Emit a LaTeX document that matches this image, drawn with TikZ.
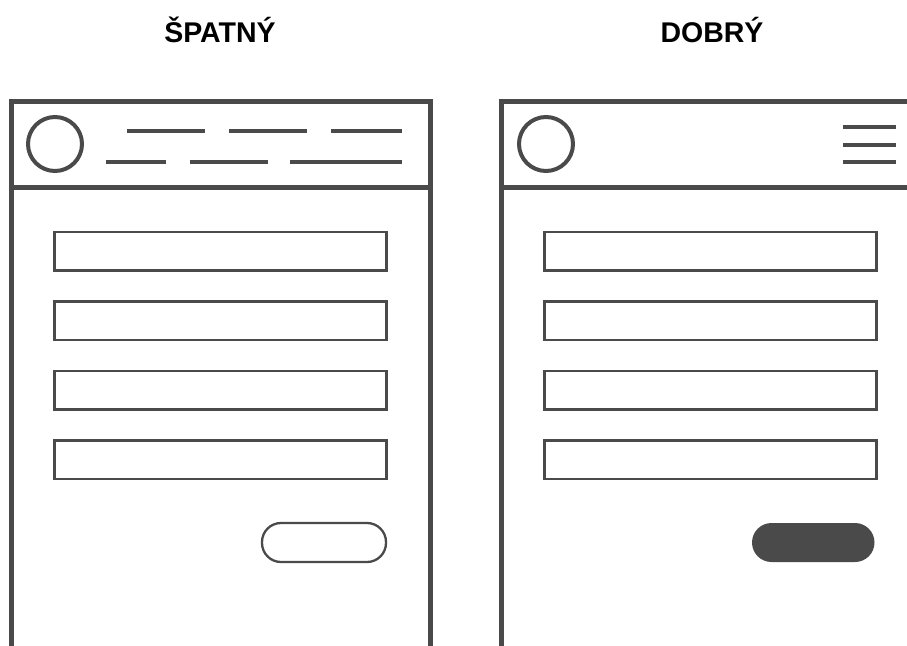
\documentclass[tikz,border=0pt]{standalone}
\usepackage{fontspec}
\setmainfont{Liberation Sans}
\definecolor{ink}{HTML}{4A4A4A}
\begin{document}
\begin{tikzpicture}[x=1pt,y=-1pt,
  frame/.style={draw=ink,line width=5pt},
  navline/.style={draw=ink,line width=4pt},
  logo/.style={draw=ink,line width=4pt},
  field/.style={draw=ink,line width=2.3pt},
  btnout/.style={draw=ink,line width=2.3pt,rounded corners=19pt},
  btnfill/.style={fill=ink,rounded corners=19.5pt},
  title/.style={font=\bfseries\fontsize{28.5}{30}\selectfont,anchor=base,inner sep=0pt}]
\useasboundingbox (0,0) rectangle (907,645);
\clip (0,0) rectangle (907,645);
% titles
\node[title] (tbad) at (220,42) {ŠPATNÝ};
\node[title] (tgood) at (712,42) {DOBRÝ};
% left phone
\draw[frame] (11.5,660) -- (11.5,101) -- (430,101) -- (430,660);
\draw[frame] (11.5,187.5) -- (430,187.5);
\draw[logo] (55,144) circle (27);
\draw[navline] (127,131) -- (205,131);
\draw[navline] (229,131) -- (307,131);
\draw[navline] (331,131) -- (402,131);
\draw[navline] (106,162) -- (166,162);
\draw[navline] (190,162) -- (268,162);
\draw[navline] (290,162) -- (402,162);
\foreach \y in {232,301.5,371,440.5}{
  \draw[field] (54.5,\y) rectangle (386.5,\y+38.5);
}
\draw[btnout] (262,523) rectangle (386,562);
% right phone
\draw[frame] (501.5,660) -- (501.5,101) -- (920,101);
\draw[frame] (501.5,187.5) -- (920,187.5);
\draw[logo] (546,144) circle (27);
\draw[navline] (843,127) -- (896,127);
\draw[navline] (843,144.5) -- (896,144.5);
\draw[navline] (843,162) -- (896,162);
\foreach \y in {232,301.5,371,440.5}{
  \draw[field] (544.5,\y) rectangle (876.5,\y+38.5);
}
\fill[btnfill] (752,523) rectangle (874.5,562);
\end{tikzpicture}
\end{document}
